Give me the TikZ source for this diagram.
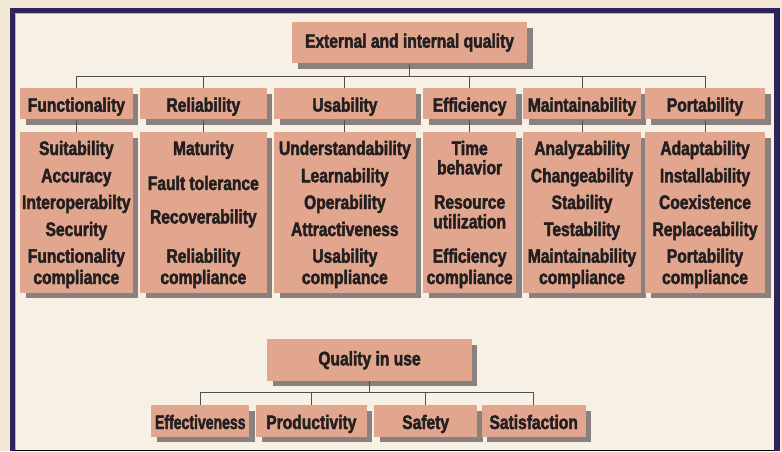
\documentclass[tikz,border=0pt]{standalone}
\usepackage{fontspec}
\setmainfont{Liberation Sans}[FakeStretch=0.80, FakeBold=2.2]
\usetikzlibrary{shadows}
\definecolor{pagebg}{RGB}{243,232,214}
\definecolor{panelbg}{RGB}{247,240,228}
\definecolor{framec}{RGB}{46,35,90}
\definecolor{framelight}{RGB}{184,176,200}
\definecolor{baseline}{RGB}{169,164,180}
\definecolor{boxfill}{RGB}{226,166,142}
\definecolor{shadowc}{RGB}{139,128,128}
\definecolor{inkc}{RGB}{35,31,32}
\definecolor{linec}{RGB}{80,80,80}
\newcommand\tighter[1]{\scalebox{0.9}[1]{#1}}

\begin{document}
\begin{tikzpicture}[x=1pt,y=-1pt,
  box/.style={fill=boxfill, inner sep=0pt,
    drop shadow={shadow xshift=5.5pt, shadow yshift=-5.5pt, fill=shadowc, opacity=1}},
  lbl/.style={anchor=base, inner sep=0pt, text=inkc,
    font=\fontsize{19.5}{22}\selectfont\bfseries},
  conn/.style={draw=linec, line width=1pt}]

% page, frame and panel
\useasboundingbox (0,0) rectangle (782,451);
\fill[pagebg] (0,0) rectangle (782,451);
\fill[framec] (10,8) rectangle (780,451);
\fill[panelbg] (15,13) rectangle (774,450);
\draw[framelight, line width=1pt] (15.5,451) -- (15.5,13.5) -- (774,13.5);
\draw[baseline, line width=1.2pt] (15,450.4) -- (774,450.4);

% ---------- external and internal quality ----------
\node[box, minimum width=235pt, minimum height=41.3pt] (ext) at (409.5,42.65) {};
\node[lbl] (ext-t) at (409.5,47.7) {External and internal quality};
\coordinate (topbar) at (0,76);

% characteristics
\foreach \n/\cx/\w/\t in {fun/76.35/112.7/Functionality, rel/203.35/126.7/Reliability,
    usa/344.85/141.7/Usability, eff/469.65/92.7/Efficiency,
    mai/582/117.4/Maintainability, por/705/120/Portability}{
  \node[box, minimum width=\w pt, minimum height=31.3pt] (\n) at (\cx,103.65) {};
  \node[lbl] (\n-t) at (\cx,111.7) {\t};
  \node[box, minimum width=\w pt, minimum height=160.7pt] (\n-s) at (\cx,212.35) {};
}

% connectors
\foreach \n in {fun,rel,usa,eff,mai,por}{
  \draw[conn] (\n.north) -- (\n.north |- topbar) -| (ext.south);
  \draw[conn] (\n.south) -- (\n-s.north);
}

% sub-characteristics
\foreach \t/\y [count=\i] in {Suitability/155, Accuracy/182.3, Interoperabilty/209,
    Security/236, Functionality/262.7, compliance/284}
  \node[lbl] (fun-\i) at (fun.center |- 0,\y) {\t};
\foreach \t/\y [count=\i] in {Maturity/155, Fault tolerance/190, Recoverability/223.5,
    Reliability/262.7, compliance/284}
  \node[lbl] (rel-\i) at (rel.center |- 0,\y) {\t};
\foreach \t/\y [count=\i] in {Understandability/155, Learnability/182.3, Operability/209,
    Attractiveness/236, Usability/262.7, compliance/284}
  \node[lbl] (usa-\i) at (usa.center |- 0,\y) {\t};
\foreach \t/\y [count=\i] in {Time/155, behavior/174.3, Resource/208.7,
    utilization/228.3, Efficiency/262.7, compliance/284}
  \node[lbl] (eff-\i) at (eff.center |- 0,\y) {\t};
\foreach \t/\y [count=\i] in {Analyzability/155, Changeability/182.3, Stability/209,
    Testability/236, Maintainability/262.7, compliance/284}
  \node[lbl] (mai-\i) at (mai.center |- 0,\y) {\t};
\foreach \t/\y [count=\i] in {Adaptability/155, Installability/182.3, Coexistence/209,
    Replaceability/236, Portability/262.7, compliance/284}
  \node[lbl] (por-\i) at (por.center |- 0,\y) {\t};

% ---------- quality in use ----------
\node[box, minimum width=204.4pt, minimum height=41.7pt] (qiu) at (369.5,359.85) {};
\node[lbl] (qiu-t) at (369.5,365.3) {Quality in use};
\coordinate (lowbar) at (0,392.3);

\foreach \n/\cx/\w/\t in {eft/200.3/98/\tighter{Effectiveness}, pro/311.35/110.7/Productivity,
    saf/425.65/102.7/Safety, sat/533.7/104/Satisfaction}{
  \node[box, minimum width=\w pt, minimum height=31.7pt] (\n) at (\cx,420.85) {};
  \node[lbl] (\n-t) at (\cx,429) {\t};
  \draw[conn] (\n.north) -- (\n.north |- lowbar) -| (qiu.south);
}
\end{tikzpicture}
\end{document}
